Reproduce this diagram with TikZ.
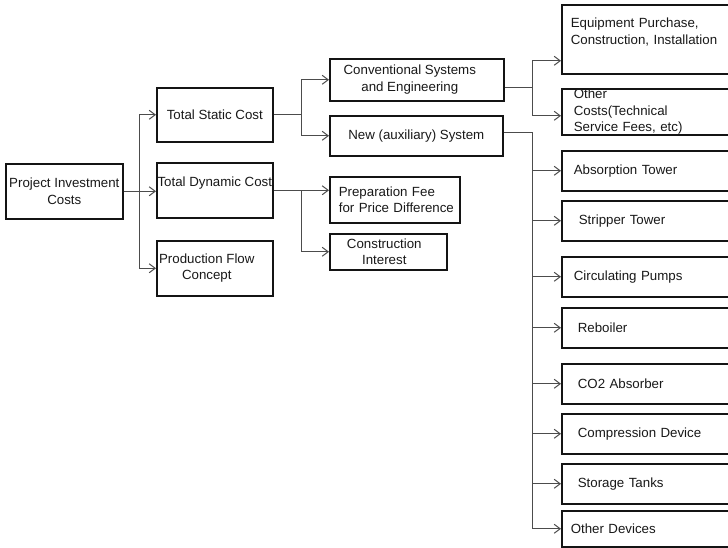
\documentclass[tikz,border=0pt]{standalone}
\usepackage{fontspec}
\setmainfont{Liberation Sans}
\usetikzlibrary{arrows.meta,calc}
\begin{document}
\begin{tikzpicture}[x=1pt,y=-1pt,
  font=\fontsize{13.3}{16.5}\selectfont,
  box/.style={draw=black!92, line width=1.6pt, anchor=north west, inner xsep=1pt, inner ysep=0pt, align=center, text=black!90},
  rbox/.style={box, minimum width=200pt, align=left},
  conn/.style={draw=black!70, line width=1pt},
  arr/.style={conn, -{Straight Barb[length=6pt,width=9pt,line width=1pt]}}]
\useasboundingbox (0,0) rectangle (728,548);
\clip (0,0) rectangle (728,548);
\fill[white] (0,0) rectangle (728,548);

% left and middle boxes
\node[box, minimum width=117pt, minimum height=55pt] (pic) at (5,163) {Project Investment\\Costs};
\node[box, minimum width=116pt, minimum height=54pt] (tsc) at (156,87) {Total Static Cost};
\node[box, minimum width=116pt, minimum height=55pt] (tdc) at (156,162) {\makebox[112pt]{Total Dynamic Cost}\\\mbox{}};
\node[box, minimum width=116pt, minimum height=55pt] (pfc) at (156,240) {Production Flow\kern16pt\\Concept\kern16pt};
\node[box, minimum width=174pt, minimum height=42pt] (conv) at (329,58) {Conventional Systems\kern14pt\\and Engineering\kern14pt};
\node[box, minimum width=173pt, minimum height=40pt] (new) at (329,115) {New (auxiliary) System};
\node[box, minimum width=130pt, minimum height=46pt, align=left, inner xsep=9pt, text width=112pt] (prep) at (329,176) {\mbox{Preparation Fee}\\\mbox{for Price Difference}};
\node[box, minimum width=117pt, minimum height=36pt] (ci) at (329,233) {Construction\kern8pt\\Interest\kern8pt};

% right column
\node[rbox, minimum height=69pt, inner xsep=9pt, text width=182pt] (eq) at (561,4) {Equipment Purchase,\\Construction, Installation\\\mbox{}};
\node[rbox, minimum height=46pt, inner xsep=12pt, text width=176pt] (oc) at (561,88) {Other\\Costs(Technical\\Service Fees, etc)};
\node[rbox, minimum height=40pt, inner xsep=12pt, text width=176pt] (ab) at (561,150) {Absorption Tower};
\node[rbox, minimum height=40pt, inner xsep=17pt, text width=166pt] (st) at (561,200) {Stripper Tower};
\node[rbox, minimum height=40pt, inner xsep=12pt, text width=176pt] (cp) at (561,256) {Circulating Pumps};
\node[rbox, minimum height=40pt, inner xsep=16pt, text width=168pt] (rb) at (561,307) {Reboiler};
\node[rbox, minimum height=40pt, inner xsep=16pt, text width=168pt] (co2) at (561,363) {CO2 Absorber};
\node[rbox, minimum height=40pt, inner xsep=16pt, text width=168pt] (cd) at (561,413) {Compression Device};
\node[rbox, minimum height=40pt, inner xsep=16pt, text width=168pt] (stt) at (561,463) {Storage Tanks};
\node[rbox, minimum height=36pt, inner xsep=9pt, text width=182pt] (od) at (561,510) {Other Devices};

% junctions
\coordinate (j1) at (139,190);
\coordinate (j2) at (301,0);
\coordinate (j3) at (532,88);
\coordinate (j4) at (532,0);

% connectors
\draw[arr] (pic.east) -- (pic.east -| j1) |- (tsc.west);
\draw[arr] (pic.east) -- (tdc.west |- pic.east);
\draw[arr] (pic.east -| j1) |- (pfc.west);

\draw[arr] (tsc.east) -- (tsc.east -| j2) |- (conv.west);
\draw[arr] (tsc.east -| j2) |- (new.west);

\draw[arr] (tdc.east) -- (prep.west |- tdc.east);
\draw[arr] (tdc.east -| j2) |- (ci.west);

\draw[conn] (conv.east |- j3) -- (j3);
\draw[arr] (j3) |- ([yshift=-21.5pt]eq.west);
\draw[arr] (j3) |- ([yshift=-4pt]oc.west);

\draw[arr] ([yshift=3pt]new.east) -| (j4 |- od.west) -- (od.west);
\foreach \n in {ab,st,cp,rb,co2,cd,stt}
  \draw[arr] (j4 |- \n.west) -- (\n.west);
\end{tikzpicture}
\end{document}
